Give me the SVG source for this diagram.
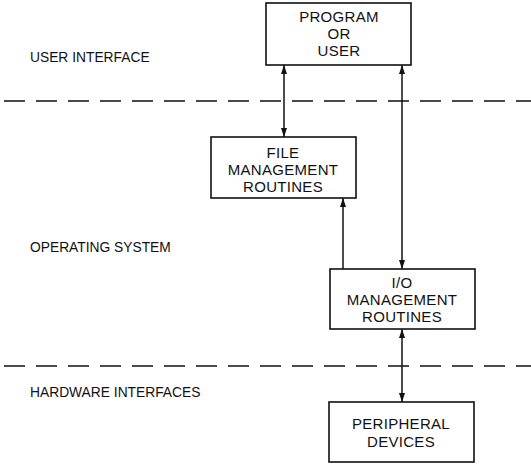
<svg xmlns="http://www.w3.org/2000/svg" width="531" height="464" viewBox="0 0 531 464">
<style>
.box{fill:#fff;stroke:#111;stroke-width:1.6}
.t{font-family:"Liberation Sans","DejaVu Sans",sans-serif;font-size:15px;fill:#111;text-anchor:middle;letter-spacing:0.3px}
.lab{font-family:"Liberation Sans","DejaVu Sans",sans-serif;font-size:13.8px;fill:#111}
.dash{stroke:#111;stroke-width:1.5;stroke-dasharray:21 11;fill:none}
.c{stroke:#111;stroke-width:1.5;fill:none}
</style>
<defs>
<marker id="ah" viewBox="0 0 10 10" refX="10" refY="5" markerWidth="9" markerHeight="6" markerUnits="userSpaceOnUse" orient="auto-start-reverse" preserveAspectRatio="none">
<path d="M0,0 L10,5 L0,10 z" fill="#111"/>
</marker>
</defs>
<rect width="531" height="464" fill="#fff"/>
<g id="labels">
<text class="lab" x="30" y="62">USER INTERFACE</text>
<text class="lab" x="30" y="252">OPERATING SYSTEM</text>
<text class="lab" x="30" y="397">HARDWARE INTERFACES</text>
</g>
<g id="dividers">
<line class="dash" x1="4" y1="101" x2="531" y2="101"/>
<line class="dash" x1="4" y1="366" x2="531" y2="366"/>
</g>
<g id="connectors">
<line class="c" x1="284" y1="65" x2="284" y2="137" marker-start="url(#ah)" marker-end="url(#ah)"/>
<line class="c" x1="402" y1="65" x2="402" y2="269" marker-start="url(#ah)" marker-end="url(#ah)"/>
<line class="c" x1="343" y1="269" x2="343" y2="198" marker-end="url(#ah)"/>
<line class="c" x1="402" y1="329" x2="402" y2="402" marker-start="url(#ah)" marker-end="url(#ah)"/>
</g>
<g id="program">
<rect class="box" x="266" y="3" width="145" height="62"/>
<text class="t" x="339" y="22">PROGRAM</text>
<text class="t" x="339" y="39">OR</text>
<text class="t" x="339" y="56">USER</text>
</g>
<g id="file">
<rect class="box" x="211" y="137" width="145" height="61"/>
<text class="t" x="283" y="158">FILE</text>
<text class="t" x="283" y="175">MANAGEMENT</text>
<text class="t" x="283" y="192">ROUTINES</text>
</g>
<g id="io">
<rect class="box" x="330" y="269" width="145" height="60"/>
<text class="t" x="402" y="288">I/O</text>
<text class="t" x="402" y="305">MANAGEMENT</text>
<text class="t" x="402" y="322">ROUTINES</text>
</g>
<g id="peripheral">
<rect class="box" x="329" y="402" width="145" height="60"/>
<text class="t" x="401" y="429">PERIPHERAL</text>
<text class="t" x="401" y="447">DEVICES</text>
</g>
</svg>
